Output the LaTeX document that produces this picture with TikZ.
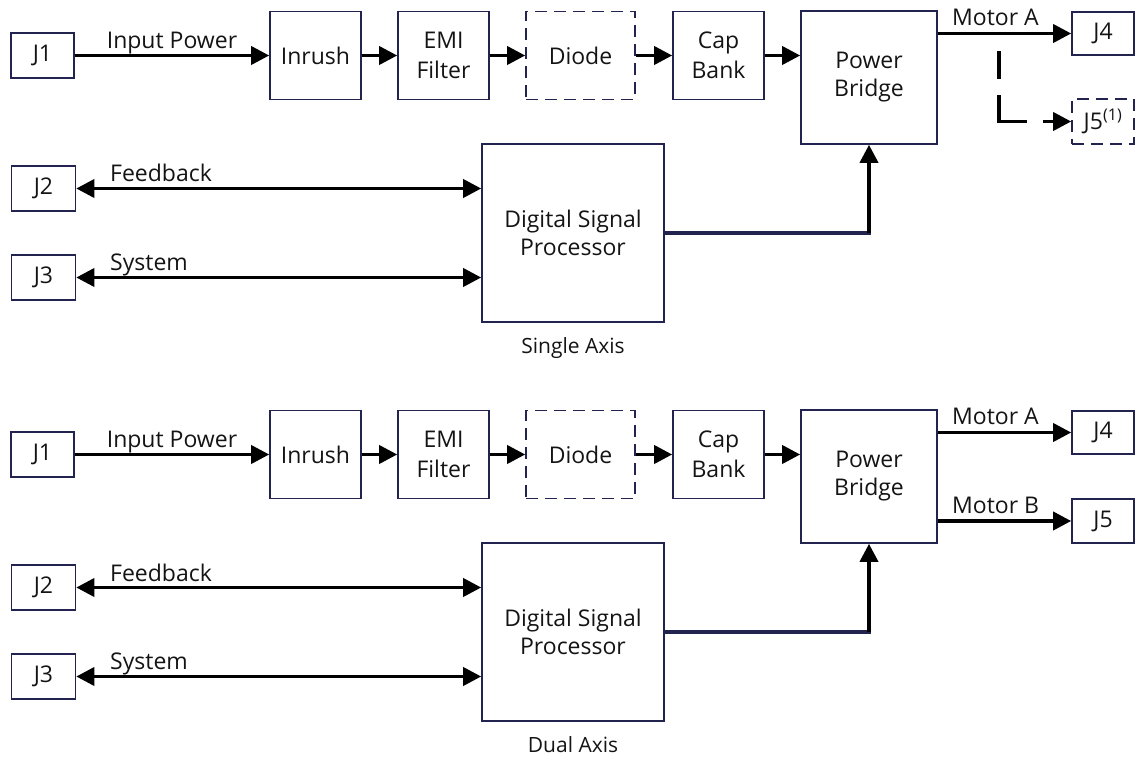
\documentclass[tikz,border=0pt]{standalone}
\usepackage{fontspec}
\setmainfont{Open Sans}
\usetikzlibrary{arrows.meta}
\definecolor{boxline}{RGB}{35,35,80}
\definecolor{txt}{RGB}{20,20,20}
\tikzset{
  blk/.style={draw=boxline, line width=1.6pt, inner sep=0pt, align=center, text=txt, font=\fontsize{23}{28}\selectfont},
  dblk/.style={blk, dash pattern=on 12pt off 7pt},
  bigtri/.tip={Triangle[length=18pt,width=18pt]},
  conn/.style={line width=3.6pt, -bigtri},
  biconn/.style={line width=3.6pt, bigtri-bigtri},
  lbl/.style={text=txt, font=\fontsize{23}{28}\selectfont, inner sep=0pt},
  captxt/.style={text=txt, font=\fontsize{21}{26}\selectfont, inner sep=0pt},
}
\newcommand\panel[3]{%
\begin{scope}[yshift=-#2pt]
 \node[blk, minimum width=63pt, minimum height=45pt] (j1#1) at (42.5,55.5) {J1};
 \node[blk, minimum width=91pt, minimum height=88pt] (inr#1) at (315.5,55.5) {Inrush};
 \node[blk, minimum width=91pt, minimum height=88pt, font=\fontsize{23}{30}\selectfont] (emi#1) at (443.5,55.5) {EMI\\Filter};
 \node[dblk, minimum width=109pt, minimum height=88pt] (dio#1) at (580.5,55.5) {Diode};
 \node[blk, minimum width=91pt, minimum height=88pt, font=\fontsize{23}{30}\selectfont] (cap#1) at (718.5,55.5) {Cap\\Bank};
 \node[blk, minimum width=136pt, minimum height=133pt] (pb#1) at (869,77.5) {Power\\Bridge};
 \node[blk, minimum width=62pt, minimum height=43pt] (j4#1) at (1103,33.5) {J4};
 \node[blk, minimum width=64pt, minimum height=45pt] (j2#1) at (43.5,188.5) {J2};
 \node[blk, minimum width=64pt, minimum height=45pt] (j3#1) at (43.5,277.5) {J3};
 \node[blk, minimum width=182pt, minimum height=178pt] (dsp#1) at (573,233) {Digital Signal\\Processor};
 \node[captxt, anchor=base] (ct#1) at (573,353) {#3};
 \draw[conn] (j1#1) -- node[lbl, anchor=base, yshift=7pt] (ip#1) {Input Power} (inr#1);
 \draw[conn] (inr#1) -- (emi#1);
 \draw[conn] (emi#1) -- (dio#1);
 \draw[conn] (dio#1) -- (cap#1);
 \draw[conn] (cap#1) -- (cap#1.east -| pb#1.west);
 \draw[biconn] (j2#1.east) -- (j2#1.east -| dsp#1.west);
 \draw[biconn] (j3#1.east) -- (j3#1.east -| dsp#1.west);
 \node[lbl, anchor=base west] (fb#1) at (110,182) {Feedback};
 \node[lbl, anchor=base west] (sy#1) at (110,270.5) {System};
 \draw[conn] (j4#1.west -| pb#1.east) -- (j4#1.west);
 \node[lbl, anchor=base west] (ma#1) at (952,25.5) {Motor A};
 \draw[line width=3.2pt, draw=boxline, line cap=rect] (dsp#1.east) -- (pb#1.south |- dsp#1.east) coordinate (cr#1);
 \draw[conn] (cr#1) -- (pb#1.south);
\end{scope}}
\begin{document}
\begin{tikzpicture}[x=1pt, y=-1pt]
\useasboundingbox (0,0) rectangle (1136,757);
\panel{a}{0}{Single Axis}
\panel{b}{399}{Dual Axis}
% top: optional J5
\node[dblk, minimum width=62pt, minimum height=45pt] (j5a) at (1103,121.5) {J5\textsuperscript{(1)}};
\coordinate (tapa) at (999,33.5);
\coordinate (bend) at (999,121.5);
\draw[line width=3.6pt, -bigtri, dash pattern=on 0pt off 18pt on 28pt off 16pt on 54pt off 16pt on 60pt] (tapa) -- (bend) -- (j5a.west);
% bottom: Motor B to J5
\node[blk, minimum width=62pt, minimum height=44pt] (j5b) at (1103,521) {J5};
\draw[conn] (j5b.west -| pbb.east) -- (j5b.west);
\node[lbl, anchor=base west] (mb) at (952,513) {Motor B};
\end{tikzpicture}
\end{document}
